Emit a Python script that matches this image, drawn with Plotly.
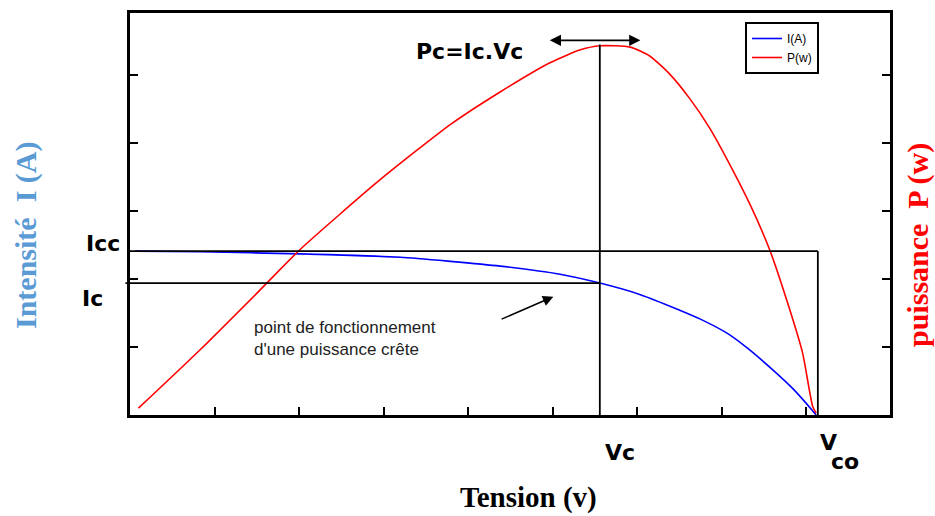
import plotly.graph_objects as go

# ---- data (x in arbitrary voltage units, y in arbitrary units) ----
V_I = [0.06, 0.83, 2.01, 3.20, 3.79, 4.38, 5.09, 5.56, 6.04, 6.47, 6.75, 7.07, 7.30, 7.61, 7.85, 8.08, 8.12]
I_A = [2.41, 2.40, 2.37, 2.32, 2.26, 2.19, 2.07, 1.94, 1.77, 1.56, 1.41, 1.20, 0.99, 0.66, 0.38, 0.06, 0.0]

V_P = [0.10, 0.83, 1.54, 2.01, 2.96, 3.79, 4.38, 4.97, 5.33, 5.56, 5.92, 6.15, 6.39, 6.62, 6.86, 7.10, 7.34, 7.57, 7.81, 7.96, 8.08, 8.12]
P_W = [0.10, 0.96, 1.84, 2.43, 3.46, 4.27, 4.75, 5.18, 5.37, 5.43, 5.41, 5.28, 5.01, 4.66, 4.22, 3.68, 3.09, 2.43, 1.54, 0.91, 0.12, 0.03]

Vc, Vco = 5.56, 8.14
Ic, Icc = 1.94, 2.41
Pc = 5.45

x_ticks = [1, 2, 3, 4, 5, 6, 7, 8]
y_ticks = [1, 2, 3, 4, 5]
X_RANGE = [0, 8.994]
Y_RANGE = [0, 5.912]

# layout geometry (pixels)
W, H = 935, 516
L, R, T, B = 130, 45, 13, 101
PW, PH = W - L - R, H - T - B


def px(xp):
    return (xp - L) / PW


def py(yp):
    return (H - B - yp) / PH


BOLD = "DejaVu Sans"
SANS = "Liberation Sans"
SERIF = "Liberation Serif"


def bfont(size, color="black", family=BOLD):
    return dict(family=family, size=size, color=color, weight="bold")


fig = go.Figure()
fig.add_trace(go.Scatter(x=V_I, y=I_A, mode="lines", name="I(A)",
                         line=dict(color="#0000ff", width=1.6, shape="spline", smoothing=0.6)))
fig.add_trace(go.Scatter(x=V_P, y=P_W, mode="lines", name="P(w)", yaxis="y2",
                         line=dict(color="#ff0000", width=1.6, shape="spline", smoothing=0.6)))

line_k = dict(color="black", width=1.8)
shapes = [
    dict(type="line", xref="x", yref="y", x0=0, x1=Vco, y0=Icc, y1=Icc, line=line_k),
    dict(type="line", xref="x", yref="y", x0=Vco, x1=Vco, y0=0, y1=Icc, line=line_k),
    dict(type="line", xref="paper", yref="y", x0=-0.006, x1=Vc / X_RANGE[1], y0=Ic, y1=Ic, line=line_k),
    dict(type="line", xref="x", yref="y", x0=Vc, x1=Vc, y0=0, y1=Pc, line=line_k),
]

annotations = [
    dict(text="Pc=Ic.Vc", xref="paper", yref="paper", x=px(469), y=py(52), showarrow=False,
         font=bfont(22), xanchor="center", yanchor="middle"),
    # double-headed arrow at the maximum
    dict(text="", xref="x", yref="y", axref="x", ayref="y", x=Vc + 0.48, y=5.51, ax=Vc - 0.61, ay=5.51,
         showarrow=True, arrowside="end+start", arrowhead=2, startarrowhead=2, arrowsize=1.4,
         startarrowsize=1.4, arrowwidth=1.6, arrowcolor="black"),
    # pointer arrow
    dict(text="", xref="x", yref="y", axref="x", ayref="y", x=5.01, y=1.74, ax=4.38, ay=1.40,
         showarrow=True, arrowhead=2, arrowsize=1.4, arrowwidth=1.5, arrowcolor="black"),
    dict(text="point de fonctionnement<br>d'une puissance crête", xref="paper", yref="paper",
         x=px(252), y=py(338), xanchor="left", yanchor="middle", align="left", showarrow=False,
         font=dict(family=SANS, size=17, color="#222222")),
    dict(text="Icc", xref="paper", yref="y", x=px(84), y=Icc, yshift=8, xanchor="left", yanchor="middle",
         showarrow=False, font=bfont(22)),
    dict(text="Ic", xref="paper", yref="y", x=px(80), y=Ic, yshift=-15, xanchor="left", yanchor="middle",
         showarrow=False, font=bfont(22)),
    dict(text="Vc", xref="x", yref="paper", x=Vc, xshift=3, y=py(453), xanchor="left", yanchor="middle",
         showarrow=False, font=bfont(22)),
    dict(text="V", xref="x", yref="paper", x=Vco, xshift=0, y=py(443), xanchor="left", yanchor="middle",
         showarrow=False, font=bfont(22)),
    dict(text="co", xref="x", yref="paper", x=Vco, xshift=11, y=py(461), xanchor="left", yanchor="middle",
         showarrow=False, font=bfont(22)),
    dict(text="Tension (v)", xref="paper", yref="paper", x=px(528), y=py(497), showarrow=False,
         xanchor="center", yanchor="middle", font=bfont(29, family=SERIF)),
    dict(text="Intensité  I (A)", xref="paper", yref="paper", x=px(26), y=py(235), showarrow=False,
         textangle=-90, xanchor="center", yanchor="middle", font=bfont(30, "#5b9bd5", SERIF)),
    dict(text="puissance  P (w)", xref="paper", yref="paper", x=px(918), y=py(245), showarrow=False,
         textangle=-90, xanchor="center", yanchor="middle", font=bfont(30, "#ff0000", SERIF)),
]

axis_common = dict(showgrid=False, zeroline=False, showline=True, linecolor="black", linewidth=2.5,
                   ticks="inside", ticklen=8, tickwidth=2, tickcolor="black", showticklabels=False)

fig.update_layout(
    width=W, height=H,
    margin=dict(l=L, r=R, t=T, b=B, autoexpand=False),
    paper_bgcolor="white", plot_bgcolor="white",
    xaxis=dict(range=X_RANGE, tickvals=x_ticks, mirror=True, **axis_common),
    yaxis=dict(range=Y_RANGE, tickvals=y_ticks, **axis_common),
    yaxis2=dict(range=Y_RANGE, tickvals=y_ticks, overlaying="y", side="right", **axis_common),
    shapes=shapes,
    annotations=annotations,
    showlegend=True,
    legend=dict(x=px(745), y=py(22), xanchor="left", yanchor="top", bgcolor="white",
                bordercolor="black", borderwidth=2, font=dict(family=SANS, size=12, color="black"),
                tracegroupgap=0),
)

fig.write_html("out.html")
